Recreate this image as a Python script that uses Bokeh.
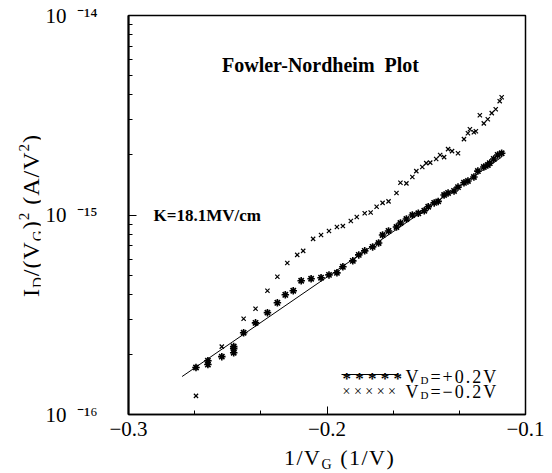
import math
from bokeh.plotting import figure
from bokeh.models import Label, FixedTicker, Range1d, BoxAnnotation, Div
from bokeh.layouts import row, column
from bokeh.embed import file_html
from bokeh.resources import INLINE

# ---------------- data ----------------
# V_D = +0.2 V  (asterisks)
vd_pos_x = [-0.266, -0.260, -0.260, -0.253, -0.247, -0.247, -0.247, -0.242, -0.236,
            -0.230, -0.225, -0.221, -0.217, -0.213, -0.208, -0.203, -0.199, -0.195,
            -0.192, -0.187, -0.184, -0.181, -0.177, -0.174, -0.172, -0.169, -0.165,
            -0.163, -0.160, -0.157, -0.154, -0.151, -0.149, -0.146, -0.144, -0.141,
            -0.139, -0.136, -0.134, -0.131, -0.129, -0.126, -0.124, -0.121, -0.119,
            -0.118, -0.116, -0.114, -0.112]
vd_pos_y = [1.72e-16, 1.86e-16, 1.78e-16, 1.95e-16, 2.19e-16, 2.14e-16, 2.04e-16, 2.57e-16, 2.88e-16,
            3.24e-16, 3.63e-16, 3.98e-16, 4.17e-16, 4.68e-16, 4.79e-16, 4.85e-16, 5.01e-16, 5.13e-16,
            5.50e-16, 5.89e-16, 6.31e-16, 6.61e-16, 6.92e-16, 7.24e-16, 7.94e-16, 8.32e-16, 8.71e-16,
            9.12e-16, 9.55e-16, 1.00e-15, 1.02e-15, 1.05e-15, 1.10e-15, 1.15e-15, 1.17e-15, 1.26e-15,
            1.29e-15, 1.32e-15, 1.38e-15, 1.45e-15, 1.48e-15, 1.55e-15, 1.66e-15, 1.74e-15, 1.78e-15,
            1.82e-15, 1.91e-15, 2.00e-15, 2.04e-15]

# V_D = -0.2 V  (crosses)
vd_neg_x = [-0.266, -0.253, -0.242, -0.236, -0.230, -0.225, -0.220, -0.215, -0.212,
            -0.207, -0.203, -0.199, -0.195, -0.192, -0.188, -0.185, -0.181, -0.178,
            -0.175, -0.172, -0.169, -0.165, -0.163, -0.160, -0.157, -0.155, -0.152,
            -0.150, -0.148, -0.145, -0.143, -0.141, -0.139, -0.137, -0.134, -0.131,
            -0.129, -0.128, -0.126, -0.125, -0.123, -0.121, -0.119, -0.117, -0.115,
            -0.113, -0.112]
vd_neg_y = [1.24e-16, 2.19e-16, 3.02e-16, 3.39e-16, 4.17e-16, 4.90e-16, 5.75e-16, 6.31e-16, 6.61e-16,
            7.59e-16, 7.94e-16, 8.32e-16, 8.71e-16, 8.80e-16, 9.33e-16, 9.77e-16, 1.02e-15, 1.03e-15,
            1.10e-15, 1.15e-15, 1.17e-15, 1.29e-15, 1.45e-15, 1.44e-15, 1.55e-15, 1.66e-15, 1.74e-15,
            1.82e-15, 1.83e-15, 1.91e-15, 2.00e-15, 1.95e-15, 2.14e-15, 2.09e-15, 2.04e-15, 2.40e-15,
            2.57e-15, 2.69e-15, 2.60e-15, 2.63e-15, 3.16e-15, 2.88e-15, 3.02e-15, 3.24e-15, 3.39e-15,
            3.72e-15, 3.89e-15]

# Fowler-Nordheim fit line
fit_x = [-0.273, -0.112]
fit_y = [1.55e-16, 1.95e-15]

x_ticks = [-0.3, -0.2, -0.1]
x_tick_labels = ["\u22120.3", "\u22120.2", "\u22120.1"]
y_ticks = [1e-16, 1e-15, 1e-14]
y_tick_labels = ["10\u00a0\u00a0\u207b\u00b9\u2076", "10\u00a0\u00a0\u207b\u00b9\u2075",
                 "10\u00a0\u00a0\u207b\u00b9\u2074"]

title_text = "Fowler-Nordheim\u00a0\u00a0Plot"
k_text = "K=18.1MV/cm"
legend_values = ["=+0.2V", "=\u22120.2V"]

# ---------------- layout ----------------
W, H = 552, 473
YDW = 40                     # width of the y-title strip
PH = 447                     # height of the plot canvas
FL, FR, FT, FB = 128, 525, 15, 414   # frame edges in page pixels
X0, X1 = -0.3, -0.1
LY0, LY1 = -16, -14
FONT = "Liberation Serif"

p = figure(width=W - YDW, height=PH, x_range=Range1d(X0, X1), y_range=Range1d(10.0**LY0, 10.0**LY1),
           y_axis_type="log", output_backend="svg", toolbar_location=None,
           min_border_left=FL - YDW, min_border_right=W - FR, min_border_top=FT,
           min_border_bottom=PH - FB, margin=0)
p.grid.visible = False
p.outline_line_color = "black"
p.outline_line_width = 1.5
p.background_fill_color = "white"
p.border_fill_color = "white"

xminor = [X0 + k * 0.1 / 3 for k in range(7)]
p.xaxis.ticker = FixedTicker(ticks=x_ticks, minor_ticks=xminor)
p.xaxis.major_label_overrides = dict(zip(x_ticks, x_tick_labels))
yminor = [m * 10.0 ** e for e in (LY0, LY0 + 1) for m in range(2, 10)]
p.yaxis.ticker = FixedTicker(ticks=y_ticks, minor_ticks=yminor)
p.yaxis.major_label_overrides = dict(zip(y_ticks, y_tick_labels))

for ax in (p.xaxis[0], p.yaxis[0]):
    ax.axis_line_color = "black"
    ax.axis_line_width = 1.5
    ax.major_tick_in = 8
    ax.major_tick_out = 0
    ax.minor_tick_in = 4
    ax.minor_tick_out = 0
    ax.major_tick_line_color = "black"
    ax.minor_tick_line_color = "black"
    ax.major_label_text_font = FONT
    ax.major_label_text_font_size = "21px"
    ax.major_label_text_color = "black"
p.yaxis.axis_line_width = 2
p.xaxis.major_label_standoff = 7
p.yaxis.major_label_standoff = 31

# data marks
p.line(fit_x, fit_y, line_color="black", line_width=1)
p.scatter(vd_pos_x, vd_pos_y, marker="asterisk", size=7.5, line_color="black", line_width=1.6)
p.scatter(vd_neg_x, vd_neg_y, marker="x", size=6, line_color="black", line_width=1.2)

# ---------------- text helpers (inside the frame) ----------------
WID = {'I': 333, 'D': 722, '/': 278, '(': 333, ')': 333, 'V': 722, 'G': 722, '2': 500, ' ': 250,
       'A': 722, '1': 500, '=': 564, '+': 564, '\u2212': 564, '.': 250, '0': 500}


def tw(text, size):
    return sum(WID.get(c, 500) for c in text) / 1000.0 * size


def tx(px):
    return X0 + (px - FL) / (FR - FL) * (X1 - X0)


def ty(py):
    return 10.0 ** (LY0 + (FB - py) / (FB - FT) * (LY1 - LY0))


def put(px, py, text, size, bold=False, align="left"):
    p.add_layout(Label(x=tx(px), y=ty(py), text=text, text_font=FONT,
                       text_font_size=f"{size}px",
                       text_font_style="bold" if bold else "normal",
                       text_color="black", text_align=align,
                       text_baseline="alphabetic"))


def run(px, py, pieces, gap=0.0):
    pos = 0.0
    for text, size, shift in pieces:
        put(px + pos, py + shift, text, size)
        pos += tw(text, size) + gap


put(320, 64, title_text, 20, bold=True, align="center")
put(153, 215, k_text, 17, bold=True)

# legend
rows = [376, 391]
put(342, rows[0] + 2, "* * * * *", 17, bold=True)
put(342, rows[1], "\u00d7 \u00d7 \u00d7 \u00d7 \u00d7", 14)
p.add_layout(BoxAnnotation(left=tx(341), right=tx(398), bottom=ty(374.6), top=ty(373.6),
                           fill_color="black", fill_alpha=1.0, line_color=None))
for r, val in zip(rows, legend_values):
    pieces = [("V", 18, 0), ("D", 11, 3)] + [(c, 18, 0) for c in val]
    run(405, r, pieces, gap=2.0)

# ---------------- axis titles (outside the frame, as HTML text) ----------------
sub = '<span style="font-size:15px;position:relative;top:4px">{}</span>'
sup = '<span style="font-size:15px;position:relative;top:-10px">{}</span>'
ytitle_html = ("I" + sub.format("D") + "/(V" + sub.format("G") + ")" + sup.format("2")
               + "&nbsp;(A/V" + sup.format("2") + ")")
ydiv = Div(width=YDW, height=PH, margin=0, text=(
    '<div style="padding:297px 0 0 19px">'
    '<div style="width:0;transform:rotate(-90deg);transform-origin:0 0;white-space:nowrap;'
    f'font-family:\'{FONT}\';font-size:24px;line-height:1;color:black;letter-spacing:1px">'
    + ytitle_html + '</div></div>'))

xsub = '<span style="font-size:14px;position:relative;top:4px">{}</span>'
xtitle_html = "1/V" + xsub.format("G") + "&nbsp;(1/V)"
xdiv = Div(width=W, height=H - PH, margin=0, text=(
    f'<div style="padding:0 0 0 284px;white-space:nowrap;font-family:\'{FONT}\';'
    'font-size:22px;line-height:1;color:black;letter-spacing:1.5px">' + xtitle_html + '</div>'))

page = column(row(ydiv, p, spacing=0, margin=0), xdiv, spacing=0, margin=0)

open("out.html", "w").write(file_html(page, INLINE))
